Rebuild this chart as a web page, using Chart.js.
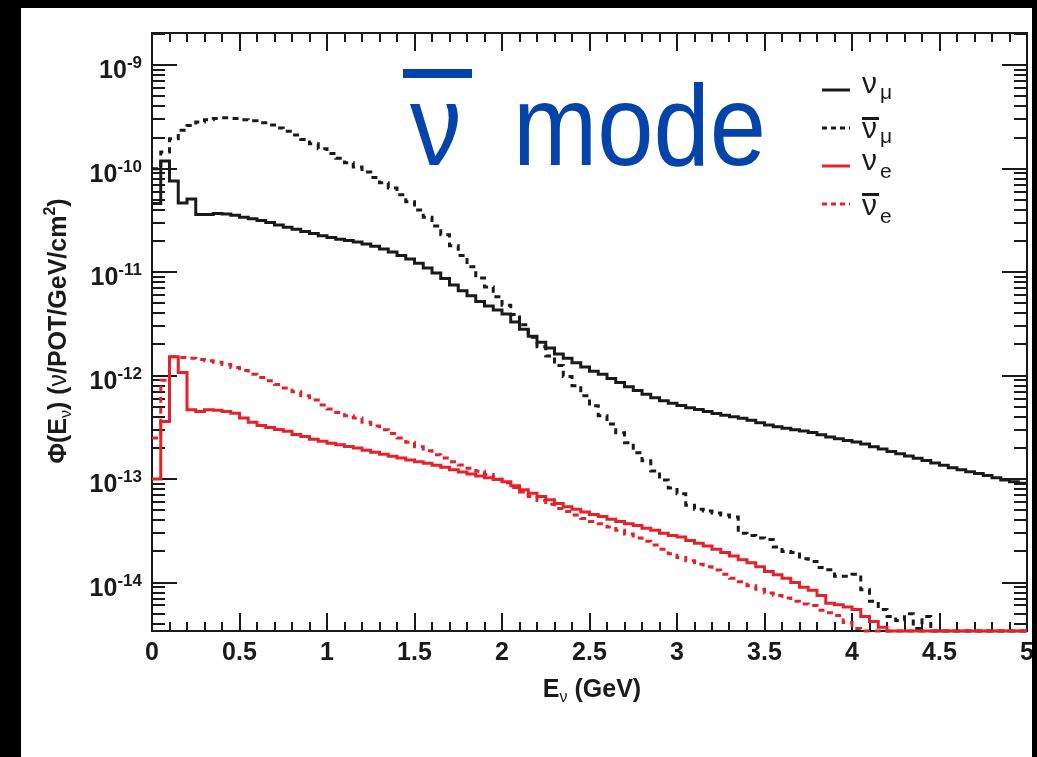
<!DOCTYPE html>
<html>
<head>
<meta charset="utf-8">
<script src="https://cdn.jsdelivr.net/npm/chart.js@4.4.1/dist/chart.umd.min.js"></script>
<style>
  html, body { margin: 0; padding: 0; background: #000; }
  #frame { position: absolute; left: 21px; top: 8px; width: 1011px; height: 749px; background: #fff; }
</style>
</head>
<body>
<div id="frame"><canvas id="flux" width="1011" height="749"></canvas></div>
<script>
// -- FLUX HISTOGRAMS, 100 bins of 0.05 GeV from 0 to 5 GeV -- //
const BIN_WIDTH = 0.05
const E_MAX = 5
const Y_MIN = 3.4e-15
const Y_MAX = 2.05e-9

const numuFlux = [
  4.6e-11, 1.19e-10, 7.6e-11, 4.67e-11, 5.1e-11, 3.6e-11, 3.6e-11, 3.7e-11, 3.65e-11, 3.55e-11,
  3.4e-11, 3.28e-11, 3.15e-11, 3.02e-11, 2.85e-11, 2.72e-11, 2.6e-11, 2.47e-11, 2.36e-11, 2.25e-11,
  2.16e-11, 2.08e-11, 2.02e-11, 1.96e-11, 1.87e-11, 1.78e-11, 1.67e-11, 1.57e-11, 1.45e-11, 1.34e-11,
  1.22e-11, 1.1e-11, 9.8e-12, 8.7e-12, 7.5e-12, 6.6e-12, 5.9e-12, 5.2e-12, 4.7e-12, 4.3e-12,
  3.95e-12, 3.3e-12, 2.8e-12, 2.4e-12, 2.1e-12, 1.85e-12, 1.62e-12, 1.47e-12, 1.33e-12, 1.21e-12,
  1.1e-12, 1.03e-12, 9.4e-13, 8.6e-13, 7.8e-13, 7.2e-13, 6.6e-13, 6.1e-13, 5.7e-13, 5.4e-13,
  5.15e-13, 4.9e-13, 4.7e-13, 4.5e-13, 4.3e-13, 4.15e-13, 4.0e-13, 3.87e-13, 3.7e-13, 3.5e-13,
  3.33e-13, 3.2e-13, 3.1e-13, 3.0e-13, 2.92e-13, 2.82e-13, 2.68e-13, 2.55e-13, 2.45e-13, 2.36e-13,
  2.28e-13, 2.18e-13, 2.05e-13, 1.95e-13, 1.85e-13, 1.76e-13, 1.67e-13, 1.59e-13, 1.51e-13, 1.43e-13,
  1.36e-13, 1.29e-13, 1.23e-13, 1.18e-13, 1.13e-13, 1.08e-13, 1.03e-13, 9.8e-14, 9.4e-14, 9.1e-14
]

const numubarFlux = [
  1.0e-10, 1.45e-10, 1.95e-10, 2.35e-10, 2.62e-10, 2.83e-10, 2.97e-10, 3.06e-10, 3.1e-10, 3.06e-10,
  2.98e-10, 2.9e-10, 2.78e-10, 2.65e-10, 2.48e-10, 2.3e-10, 2.12e-10, 1.92e-10, 1.74e-10, 1.56e-10,
  1.4e-10, 1.26e-10, 1.14e-10, 1.04e-10, 9.3e-11, 8.2e-11, 7.3e-11, 6.5e-11, 5.6e-11, 4.8e-11,
  4.0e-11, 3.4e-11, 2.8e-11, 2.3e-11, 1.8e-11, 1.45e-11, 1.13e-11, 8.8e-12, 7.2e-12, 5.8e-12,
  4.8e-12, 3.9e-12, 3.1e-12, 2.35e-12, 1.9e-12, 1.55e-12, 1.25e-12, 9.8e-13, 8.0e-13, 6.4e-13,
  5.1e-13, 4.1e-13, 3.4e-13, 2.8e-13, 2.25e-13, 1.8e-13, 1.5e-13, 1.2e-13, 9.8e-14, 8.2e-14,
  7.2e-14, 5.6e-14, 5.1e-14, 4.9e-14, 4.7e-14, 4.5e-14, 4.3e-14, 3.0e-14, 2.85e-14, 2.7e-14,
  2.6e-14, 2.2e-14, 2.0e-14, 1.95e-14, 1.7e-14, 1.6e-14, 1.4e-14, 1.33e-14, 1.15e-14, 1.15e-14,
  1.2e-14, 8.5e-15, 6.6e-15, 5.5e-15, 4.7e-15, 4.3e-15, 5.0e-15, 3.6e-15, 4.7e-15, 0,
  0, 0, 0, 0, 0, 0, 0, 0, 0, 0
]

const nueFlux = [
  1.0e-13, 3.6e-13, 1.52e-12, 1.07e-12, 4.68e-13, 4.5e-13, 4.68e-13, 4.62e-13, 4.5e-13, 4.33e-13,
  3.9e-13, 3.55e-13, 3.3e-13, 3.15e-13, 3.02e-13, 2.9e-13, 2.7e-13, 2.58e-13, 2.42e-13, 2.32e-13,
  2.22e-13, 2.15e-13, 2.07e-13, 2.0e-13, 1.9e-13, 1.82e-13, 1.74e-13, 1.66e-13, 1.6e-13, 1.53e-13,
  1.47e-13, 1.42e-13, 1.36e-13, 1.3e-13, 1.23e-13, 1.17e-13, 1.12e-13, 1.07e-13, 1.03e-13, 9.9e-14,
  9.4e-14, 8.6e-14, 7.9e-14, 7.3e-14, 6.8e-14, 6.3e-14, 5.8e-14, 5.4e-14, 5.1e-14, 4.8e-14,
  4.55e-14, 4.35e-14, 4.1e-14, 3.9e-14, 3.7e-14, 3.55e-14, 3.35e-14, 3.2e-14, 3.0e-14, 2.85e-14,
  2.75e-14, 2.55e-14, 2.4e-14, 2.25e-14, 2.1e-14, 1.95e-14, 1.8e-14, 1.66e-14, 1.55e-14, 1.42e-14,
  1.28e-14, 1.19e-14, 1.1e-14, 1.0e-14, 9.0e-15, 8.4e-15, 7.5e-15, 6.3e-15, 6.1e-15, 5.8e-15,
  5.5e-15, 4.7e-15, 4.2e-15, 3.7e-15, 0, 0, 0, 0, 0, 0,
  0, 0, 0, 0, 0, 0, 0, 0, 0, 0
]

const nuebarFlux = [
  2.5e-13, 9.0e-13, 1.52e-12, 1.5e-12, 1.47e-12, 1.43e-12, 1.39e-12, 1.35e-12, 1.28e-12, 1.2e-12,
  1.12e-12, 1.03e-12, 9.6e-13, 8.9e-13, 8.2e-13, 7.6e-13, 7.0e-13, 6.4e-13, 5.8e-13, 5.2e-13,
  4.75e-13, 4.4e-13, 4.1e-13, 3.9e-13, 3.55e-13, 3.25e-13, 3.0e-13, 2.75e-13, 2.5e-13, 2.27e-13,
  2.05e-13, 1.88e-13, 1.72e-13, 1.6e-13, 1.47e-13, 1.37e-13, 1.27e-13, 1.19e-13, 1.11e-13, 1.0e-13,
  9.2e-14, 8.3e-14, 7.5e-14, 6.8e-14, 6.2e-14, 5.7e-14, 5.2e-14, 4.85e-14, 4.5e-14, 4.15e-14,
  3.9e-14, 3.7e-14, 3.45e-14, 3.2e-14, 2.95e-14, 2.7e-14, 2.5e-14, 2.3e-14, 2.1e-14, 1.9e-14,
  1.75e-14, 1.62e-14, 1.5e-14, 1.42e-14, 1.32e-14, 1.2e-14, 1.1e-14, 1.02e-14, 9.3e-15, 8.6e-15,
  7.9e-15, 7.5e-15, 7.1e-15, 6.6e-15, 6.2e-15, 6.0e-15, 5.4e-15, 5.1e-15, 4.8e-15, 4.1e-15,
  3.6e-15, 0, 0, 0, 0, 0, 0, 0, 0, 0,
  0, 0, 0, 0, 0, 0, 0, 0, 0, 0
]

// axis labels
const xTickLabels = ['0', '0.5', '1', '1.5', '2', '2.5', '3', '3.5', '4', '4.5', '5']
const yTickExponents = [-9, -10, -11, -12, -13, -14]
const legendSubscripts = ['\u03BC', '\u03BC', 'e', 'e']
const legendBars = [false, true, false, true]

const BLACK = '#1a1a1a'
const RED = '#e8202a'
const BLUE = '#0444aa'
const FONT = '"Liberation Sans", Arial, sans-serif'

// empty bins sit on the bottom of the frame like in ROOT
const histPoints = (values) => {
  const pts = values.map((v, i) => ({ x: i * BIN_WIDTH, y: v > 0 ? v : Y_MIN }))
  pts.push({ x: values.length * BIN_WIDTH, y: pts[pts.length - 1].y })
  return pts
}

const seriesStyles = [
  { data: numuFlux, color: BLACK, dash: [] },
  { data: numubarFlux, color: BLACK, dash: [6, 5] },
  { data: nueFlux, color: RED, dash: [] },
  { data: nuebarFlux, color: RED, dash: [6, 5] }
]

const richWidth = (ctx, parts) => {
  let w = 0
  for (const p of parts) { ctx.font = p.font; w += ctx.measureText(p.text).width }
  return w
}
const drawRich = (ctx, parts, x, y) => {
  for (const p of parts) {
    ctx.font = p.font
    ctx.fillText(p.text, x, y + (p.dy || 0))
    x += ctx.measureText(p.text).width
  }
}

// frame, inward ticks on all four sides, axis labels
const framePlugin = {
  id: 'rootFrame',
  beforeDatasetsDraw(chart) {
    const { ctx, chartArea: a } = chart
    const xs = chart.scales.x, ys = chart.scales.y
    ctx.save()
    ctx.strokeStyle = BLACK
    ctx.lineWidth = 2
    ctx.beginPath()
    for (let k = 1; k < 50; k++) {
      const px = Math.round(xs.getPixelForValue(k / 10))
      const len = k % 5 === 0 ? 18 : 9
      ctx.moveTo(px, a.bottom); ctx.lineTo(px, a.bottom - len)
      ctx.moveTo(px, a.top); ctx.lineTo(px, a.top + len)
    }
    for (let d = -15; d <= -9; d++) {
      for (let m = 1; m <= 9; m++) {
        const v = m * Math.pow(10, d)
        if (v <= Y_MIN || v >= Y_MAX) continue
        const py = Math.round(ys.getPixelForValue(v))
        const len = m === 1 ? 25 : 13
        ctx.moveTo(a.left, py); ctx.lineTo(a.left + len, py)
        ctx.moveTo(a.right, py); ctx.lineTo(a.right - len, py)
      }
    }
    ctx.stroke()
    ctx.strokeRect(a.left, a.top, a.right - a.left, a.bottom - a.top)

    ctx.fillStyle = BLACK
    ctx.textBaseline = 'alphabetic'
    ctx.textAlign = 'center'
    ctx.font = 'bold 25px ' + FONT
    xTickLabels.forEach((lab) => {
      ctx.fillText(lab, xs.getPixelForValue(parseFloat(lab)), 652)
    })

    ctx.textAlign = 'left'
    yTickExponents.forEach((ex) => {
      const py = ys.getPixelForValue(Math.pow(10, ex))
      const parts = [
        { text: '10', font: 'bold 25px ' + FONT, dy: 13 },
        { text: '-' + Math.abs(ex), font: 'bold 17px ' + FONT, dy: 3 }
      ]
      drawRich(ctx, parts, 121 - richWidth(ctx, parts), py)
    })

    // x title
    const xTitle = [
      { text: 'E', font: 'bold 25px ' + FONT },
      { text: '\u03BD', font: '16px ' + FONT, dy: 5 },
      { text: ' (GeV)', font: 'bold 25px ' + FONT }
    ]
    drawRich(ctx, xTitle, 571 - richWidth(ctx, xTitle) / 2, 689)

    // y title, rotated
    const yTitle = [
      { text: '\u03A6(E', font: 'bold 25px ' + FONT },
      { text: '\u03BD', font: '16px ' + FONT, dy: 5 },
      { text: ') (', font: 'bold 25px ' + FONT },
      { text: '\u03BD', font: '25px ' + FONT },
      { text: '/POT/GeV/cm', font: 'bold 25px ' + FONT },
      { text: '2', font: 'bold 16px ' + FONT, dy: -11 },
      { text: ')', font: 'bold 25px ' + FONT }
    ]
    ctx.save()
    ctx.translate(45, 323)
    ctx.rotate(-Math.PI / 2)
    drawRich(ctx, yTitle, -richWidth(ctx, yTitle) / 2, 0)
    ctx.restore()
    ctx.restore()
  },
  afterDraw(chart) {
    const { ctx } = chart
    ctx.save()

    // legend
    const rows = [82, 120, 158, 196]
    const nuBase = [3, 10, 4, 11]
    const subBase = [9, 15, 12, 19]
    seriesStyles.forEach((s, i) => {
      const ly = rows[i]
      ctx.strokeStyle = s.color
      ctx.lineWidth = 3
      ctx.setLineDash(s.dash.length ? [5, 4] : [])
      ctx.beginPath(); ctx.moveTo(801, ly); ctx.lineTo(829, ly); ctx.stroke()
      ctx.setLineDash([])
      ctx.fillStyle = BLACK
      ctx.font = '30px ' + FONT
      ctx.fillText('\u03BD', 841, ly + nuBase[i])
      if (legendBars[i]) ctx.fillRect(841, ly - 11, 17, 3)
      ctx.font = '21px ' + FONT
      ctx.fillText(legendSubscripts[i], 859, ly + subBase[i])
    })

    // beam mode label
    ctx.fillStyle = BLUE
    ctx.fillRect(382, 61, 69, 9)
    ctx.font = '115px ' + FONT
    ctx.save(); ctx.translate(389, 157); ctx.scale(0.9, 1); ctx.fillText('\u03BD', 0, 0); ctx.restore()
    ctx.save(); ctx.translate(492, 157); ctx.scale(0.88, 1); ctx.fillText('mode', 0, 0); ctx.restore()
    ctx.restore()
  }
}

const datasets = seriesStyles.map((s, i) => ({
  data: histPoints(s.data),
  borderColor: s.color,
  borderWidth: 3,
  borderDash: s.dash,
  pointRadius: 0,
  stepped: true,
  fill: false,
  order: 4 - i,
  clip: { left: 0, top: 0, right: 0, bottom: 2 }
}))

new Chart(document.getElementById('flux'), {
  type: 'line',
  data: { datasets },
  options: {
    responsive: false,
    animation: false,
    devicePixelRatio: 1,
    layout: { padding: { left: 131, right: 5, top: 25, bottom: 126 } },
    plugins: { legend: { display: false }, tooltip: { enabled: false } },
    scales: {
      // bounds 'data' keeps the exact min/max instead of rounded tick values
      x: { type: 'linear', bounds: 'data', min: 0, max: E_MAX, display: false },
      y: { type: 'logarithmic', bounds: 'data', min: Y_MIN, max: Y_MAX, display: false }
    }
  },
  plugins: [framePlugin]
})
</script>
</body>
</html>
